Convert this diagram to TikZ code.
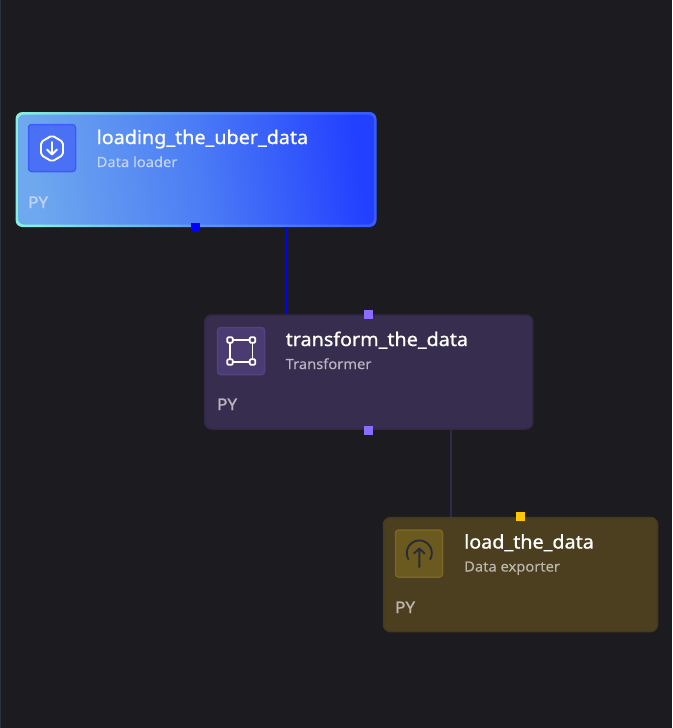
\documentclass[tikz,border=0pt]{standalone}
\usepackage{fontspec}
\setmainfont{Noto Sans}
\newfontfamily\titlefont[FakeBold=0.9,FakeStretch=1.05]{Noto Sans}
\newfontfamily\subfont[FakeBold=0.15,FakeStretch=1.05]{Noto Sans}
\newfontfamily\pyfont[FakeBold=1.3,FakeStretch=1.06]{Noto Sans}
\definecolor{bgc}{HTML}{1C1C20}
\definecolor{edgec}{HTML}{2A3440}
\definecolor{tf}{HTML}{372E4F}
\definecolor{tb}{HTML}{302845}
\definecolor{tib}{HTML}{4A3B70}
\definecolor{tibb}{HTML}{52437E}
\definecolor{ef}{HTML}{4B3F20}
\definecolor{eb}{HTML}{443A1E}
\definecolor{eib}{HTML}{6B5A1F}
\definecolor{eibb}{HTML}{7A6621}
\definecolor{lib}{HTML}{4A70F5}
\definecolor{libb}{HTML}{3F5CFA}
\definecolor{portb}{HTML}{0000FF}
\definecolor{portp}{HTML}{8B6CFF}
\definecolor{porty}{HTML}{FFC700}
\definecolor{linet}{HTML}{30294D}
\definecolor{icond}{HTML}{2B2B36}
\definecolor{subl}{HTML}{C3D4FA}
\definecolor{fa}{HTML}{6EA8EE}
\definecolor{fb}{HTML}{4C7DF5}
\definecolor{fc}{HTML}{2240FF}
\definecolor{ga}{HTML}{85F0DC}
\definecolor{gb}{HTML}{5F95F0}
\definecolor{gc}{HTML}{3A5CFF}
\pgfdeclarehorizontalshading{loaderfill}{100bp}{
  color(0bp)=(fa);
  color(25bp)=(fa);
  color(50bp)=(fb);
  color(75bp)=(fc);
  color(100bp)=(fc)}
\pgfdeclarehorizontalshading{loaderedgefill}{100bp}{
  color(0bp)=(ga);
  color(25bp)=(ga);
  color(50bp)=(gb);
  color(75bp)=(gc);
  color(100bp)=(gc)}
\tikzset{
  x=1pt,y=-1pt,
  blockbox/.style={rectangle,rounded corners=7pt,inner sep=0pt,line width=1.5pt},
  iconbox/.style={rectangle,rounded corners=3pt,inner sep=0pt,minimum width=47pt,minimum height=47pt,line width=1.5pt},
  port/.style={rectangle,inner sep=0pt,minimum size=9pt},
  titletext/.style={anchor=base west,inner sep=0pt,text=white,font=\titlefont\fontsize{18.8}{20}\selectfont},
  subtext/.style={anchor=base west,inner sep=0pt,font=\subfont\fontsize{14}{16}\selectfont},
  pytext/.style={anchor=base west,inner sep=0pt,font=\pyfont\fontsize{16}{18}\selectfont},
  iconline/.style={line width=1.9pt,line cap=round,line join=round},
  wire/.style={line width=2.4pt}
}
\begin{document}
\begin{tikzpicture}
\useasboundingbox (0,0) rectangle (672,728);
\fill[bgc] (0,0) rectangle (672,728);
\fill[edgec] (0,0) rectangle (1,728);
\coordinate (wirea) at (286.5,270);
\coordinate (wireb) at (451,470);
% blocks
\node[rectangle,rounded corners=7pt,inner sep=0pt,minimum width=361pt,minimum height=115pt,shading=loaderedgefill,shading angle=8] (loaderedge) at (196,169.5) {};
\node[rectangle,rounded corners=6pt,inner sep=0pt,minimum width=356pt,minimum height=110pt,shading=loaderfill,shading angle=8] (loader) at (196,169.5) {};
\node[blockbox,fill=tf,draw=tb,minimum width=328pt,minimum height=114pt] (transformer) at (368.7,372) {};
\node[blockbox,fill=ef,draw=eb,minimum width=274pt,minimum height=114pt] (exporter) at (520.5,574.5) {};
% connectors
\draw[wire,draw=portb] (loaderedge.south -| wirea) -- (wirea |- transformer.north);
\draw[wire,draw=linet] (transformer.south -| wireb) -- (wireb |- exporter.north);
% ports
\node[port,fill=portb] (p1) at (195.7,227) {};
\node[port,fill=portp] (p2) at (368.7,314) {};
\node[port,fill=portp] (p3) at (368.7,430) {};
\node[port,fill=porty] (p4) at (520.5,516.5) {};
% icon boxes
\node[iconbox,fill=lib,draw=libb] (i1) at (52,148) {};
\node[iconbox,fill=tib,draw=tibb] (i2) at (241,351) {};
\node[iconbox,fill=eib,draw=eibb] (i3) at (419,553.5) {};
% icon 1
\draw[iconline,white,rounded corners=2pt] (52,135.5) -- (63,142) -- (63,155) -- (52,161.5) -- (41,155) -- (41,142) -- cycle;
\draw[iconline,white] (52,142) -- (52,154.5) (47,149.5) -- (52,154.5) -- (57,149.5);
% icon 2
\draw[iconline,white] (230,340) rectangle (252.5,362);
\foreach \px/\py in {230/340,252.5/340,230/362,252.5/362}
  \draw[white,fill=tib,line width=1.7pt,rounded corners=1pt] (\px-2.7,\py-2.7) rectangle (\px+2.7,\py+2.7);
% icon 3
\draw[iconline,icond,domain=-30:210,samples=40,smooth] plot ({419.3+12.5*cos(\x)},{553-12.5*sin(\x)});
\draw[iconline,icond] (419.3,567) -- (419.3,548.5) (414,553.5) -- (419.3,548.5) -- (424.6,553.5);
% text
\node[titletext] (t1) at (96.5,144) {loading\_the\_uber\_data};
\node[subtext,text=subl] (s1) at (96.5,167) {Data loader};
\node[pytext,text=subl] (y1) at (28,208) {PY};
\node[titletext] (t2) at (285.5,346) {transform\_the\_data};
\node[subtext,text=white!65!tf] (s2) at (285.5,369) {Transformer};
\node[pytext,text=white!65!tf] (y2) at (217,410) {PY};
\node[titletext] (t3) at (464,548.5) {load\_the\_data};
\node[subtext,text=white!62!ef] (s3) at (464,571.5) {Data exporter};
\node[pytext,text=white!62!ef] (y3) at (395,613) {PY};
\end{tikzpicture}
\end{document}
